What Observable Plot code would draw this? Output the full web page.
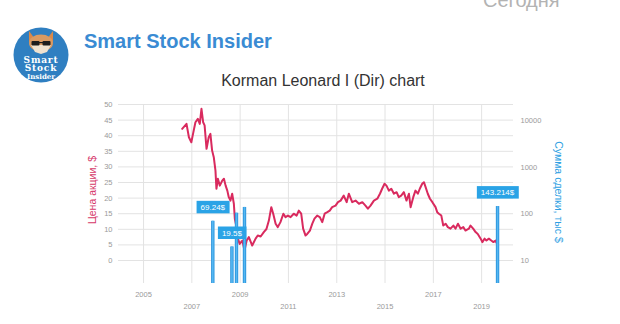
<!DOCTYPE html>
<html>
<head>
<meta charset="utf-8">
<script src="https://cdn.jsdelivr.net/npm/d3@7"></script>
<script src="https://cdn.jsdelivr.net/npm/@observablehq/plot@0.6"></script>
<style>
  html, body { margin: 0; padding: 0; background: #ffffff; }
  #wrap { position: relative; width: 620px; height: 324px; overflow: hidden; font-family: "Liberation Sans", Arial, sans-serif; }
  #wrap > svg, #wrap > figure { position: absolute; left: 0; top: 0; margin: 0; }
</style>
</head>
<body>
<div id="wrap"></div>
<script>
// ---- data ----
const priceYears = [
  2006.60, 2006.78, 2006.88, 2006.98, 2007.08, 2007.15, 2007.25, 2007.33, 2007.40, 2007.47,
  2007.53, 2007.61, 2007.70, 2007.77, 2007.84, 2007.91, 2007.98, 2008.02, 2008.08, 2008.16,
  2008.26, 2008.33, 2008.40, 2008.47, 2008.53, 2008.60, 2008.67, 2008.74, 2008.78, 2008.85,
  2008.91, 2008.98, 2009.09, 2009.18, 2009.27, 2009.36, 2009.50, 2009.64, 2009.73, 2009.85,
  2009.98, 2010.09, 2010.19, 2010.29, 2010.37, 2010.47, 2010.56, 2010.67, 2010.79, 2010.88,
  2010.98, 2011.09, 2011.22, 2011.34, 2011.43, 2011.53, 2011.61, 2011.71, 2011.78, 2011.89,
  2011.99, 2012.08, 2012.19, 2012.30, 2012.40, 2012.50, 2012.61, 2012.71, 2012.81, 2012.95,
  2013.05, 2013.16, 2013.29, 2013.41, 2013.50, 2013.64, 2013.78, 2013.92, 2014.06, 2014.19,
  2014.29, 2014.40, 2014.54, 2014.68, 2014.79, 2014.88, 2014.98, 2015.06, 2015.16, 2015.26,
  2015.37, 2015.48, 2015.57, 2015.67, 2015.78, 2015.89, 2015.99, 2016.06, 2016.17, 2016.26,
  2016.36, 2016.44, 2016.54, 2016.61, 2016.68, 2016.77, 2016.86, 2016.96, 2017.09, 2017.16,
  2017.23, 2017.33, 2017.41, 2017.51, 2017.60, 2017.71, 2017.83, 2017.92, 2018.02, 2018.13,
  2018.24, 2018.33, 2018.47, 2018.54, 2018.65, 2018.75, 2018.84, 2018.96, 2019.03, 2019.12,
  2019.20, 2019.30, 2019.40, 2019.48, 2019.58, 2019.67
];
const priceValues = [
  42.2, 43.8, 39.5, 37.9, 41.7, 44.3, 45.4, 43.8, 48.6, 44.3,
  43.3, 35.8, 39.5, 40.6, 35.3, 33.1, 28.8, 23.0, 26.2, 24.0,
  25.6, 26.2, 24.0, 22.4, 20.3, 19.2, 21.4, 18.2, 13.4, 10.7,
  7.0, 5.3, 6.4, 3.2, 6.4, 7.5, 4.8, 7.0, 8.0, 7.7,
  9.1, 10.1, 12.8, 17.1, 15.0, 11.8, 10.7, 12.3, 15.0, 13.9,
  14.4, 13.9, 15.0, 14.4, 16.0, 15.0, 10.2, 8.0, 8.5, 9.6,
  11.8, 13.4, 14.4, 13.9, 12.3, 15.0, 15.5, 16.0, 17.1, 17.6,
  18.7, 19.2, 20.8, 18.7, 21.4, 18.7, 19.2, 18.2, 18.7, 17.6,
  16.6, 17.6, 19.2, 19.8, 21.4, 23.0, 24.6, 24.0, 22.4, 23.0,
  21.4, 21.9, 20.3, 20.8, 21.9, 19.2, 21.4, 17.1, 20.3, 22.4,
  21.4, 23.0, 24.6, 25.1, 23.5, 21.4, 19.8, 18.7, 17.1, 15.5,
  15.0, 14.4, 11.2, 11.8, 10.7, 10.2, 11.2, 10.2, 11.8, 10.2,
  10.7, 9.6, 10.2, 11.2, 10.2, 9.1, 8.5, 7.0, 5.9, 7.0,
  6.4, 7.0, 6.4, 5.9, 6.4, 4.8
];
const dealYears = [2007.87, 2008.66, 2008.85, 2009.18, 2019.66];
const dealValues = [69.24, 19.5, 103, 137, 143.214];
const dealLabels = ["69.24$", "19.5$", "", "", "143.214$"];
const yearTicksRow1 = [2005, 2009, 2013, 2017];
const yearTicksRow2 = [2007, 2011, 2015, 2019];
const priceTicks = [0, 5, 10, 15, 20, 25, 30, 35, 40, 45, 50];
const amountTicks = [10, 100, 1000, 10000];
const xDomainYears = [2003.965, 2020.32];
const priceDomain = [-7.37, 50];
const amountDomain = [3.21, 22030];

// ---- helpers ----
function yearToDate(y) {
  const yr = Math.floor(y);
  const a = Date.UTC(yr, 0, 1), b = Date.UTC(yr + 1, 0, 1);
  return new Date(a + (y - yr) * (b - a));
}
const price = priceYears.map((y, i) => ({date: yearToDate(y), value: priceValues[i]}));
const deals = dealYears.map((y, i) => ({date: yearToDate(y), value: dealValues[i], label: dealLabels[i]}));
const labelled = deals.filter(d => d.label);
const xDomain = xDomainYears.map(yearToDate);
const allYearTicks = [...yearTicksRow1, ...yearTicksRow2].map(y => yearToDate(y));

const W = 620, H = 324;
const M = {top: 104, right: 107, bottom: 41, left: 118};
const font = "Liberation Sans, Arial, Helvetica, sans-serif";
const wrap = document.getElementById("wrap");

// ---- background layer: header, logo, titles ----
const ns = "http://www.w3.org/2000/svg";
const bg = document.createElementNS(ns, "svg");
bg.setAttribute("width", W); bg.setAttribute("height", H);
bg.innerHTML = `
  <text x="483" y="7" font-family="${font}" font-size="20" fill="#b3b3b3">Сегодня</text>
  <circle cx="41" cy="55" r="27.5" fill="#2f7fc1"/>
  <path d="M29,31 L35,39 L29,42 Z" fill="#d9894a"/>
  <path d="M53,31 L47,39 L53,42 Z" fill="#d9894a"/>
  <ellipse cx="41" cy="43" rx="12" ry="8.5" fill="#d99a62"/>
  <path d="M31,45 L51,45 L47,52 L41,54 L35,52 Z" fill="#efe2cf"/>
  <rect x="31.5" y="41" width="8" height="4.5" rx="1" fill="#1d1d1d"/>
  <rect x="42.5" y="41" width="8" height="4.5" rx="1" fill="#1d1d1d"/>
  <rect x="39" y="42" width="4" height="1.2" fill="#1d1d1d"/>
  <text x="41" y="62.5" text-anchor="middle" font-family="DejaVu Serif, serif" font-weight="bold" font-size="9" letter-spacing="0.8" fill="#ffffff">Smart</text>
  <text x="41" y="71" text-anchor="middle" font-family="DejaVu Serif, serif" font-weight="bold" font-size="9" letter-spacing="0.8" fill="#ffffff">Stock</text>
  <text x="41" y="78.5" text-anchor="middle" font-family="DejaVu Serif, serif" font-weight="bold" font-size="7" fill="#ffffff">Insider</text>
  <text x="84" y="48" font-family="${font}" font-weight="bold" font-size="20" fill="#3a8bd3">Smart Stock Insider</text>
  <text x="323" y="86" text-anchor="middle" font-family="${font}" font-size="16" fill="#333333">Korman Leonard I (Dir) chart</text>
  <text transform="translate(96,190) rotate(-90)" text-anchor="middle" font-family="${font}" font-size="10.5" fill="#d6386a">Цена акции, $</text>
  <text transform="translate(555,192) rotate(90)" text-anchor="middle" font-family="${font}" font-size="10.5" fill="#2e9fe3">Сумма сделки, тыс $</text>
`;
wrap.appendChild(bg);

// ---- price chart (left axis) ----
const p1 = Plot.plot({
  width: W, height: H,
  marginTop: M.top, marginRight: M.right, marginBottom: M.bottom, marginLeft: M.left,
  style: {background: "transparent", fontFamily: font, fontSize: "7.5px"},
  x: {type: "utc", domain: xDomain},
  y: {domain: priceDomain},
  marks: [
    Plot.gridY(priceTicks, {stroke: "#e3e3e3", strokeOpacity: 1}),
    Plot.gridX(allYearTicks, {stroke: "#e3e3e3", strokeOpacity: 1}),
    Plot.axisY(priceTicks, {tickSize: 0, tickPadding: 6, color: "#9a9a9a", label: null}),
    Plot.axisX(yearTicksRow1.map(yearToDate), {tickSize: 0, tickPadding: 8, tickFormat: d3.utcFormat("%Y"), color: "#9a9a9a", label: null}),
    Plot.axisX(yearTicksRow2.map(yearToDate), {tickSize: 0, tickPadding: 20, tickFormat: d3.utcFormat("%Y"), color: "#9a9a9a", label: null}),
    Plot.line(price, {x: "date", y: "value", stroke: "#d92a5e", strokeWidth: 2, strokeLinejoin: "round"})
  ]
});
wrap.appendChild(p1);

// ---- deals chart (right log axis) ----
const p2 = Plot.plot({
  width: W, height: H,
  marginTop: M.top, marginRight: M.right, marginBottom: M.bottom, marginLeft: M.left,
  style: {background: "transparent", fontFamily: font, fontSize: "7.5px"},
  x: {type: "utc", domain: xDomain, axis: null},
  y: {type: "log", domain: amountDomain, axis: null},
  marks: [
    Plot.axisY(amountTicks, {anchor: "right", tickSize: 0, tickPadding: 7, tickFormat: d => String(d), color: "#9a9a9a", label: null}),
    Plot.ruleX(deals, {x: "date", y1: amountDomain[0], y2: "value", stroke: "#2a93dc", strokeWidth: 3.4}),
    Plot.ruleX(deals, {x: "date", y1: amountDomain[0], y2: "value", stroke: "#55b8f2", strokeWidth: 1.6}),
    Plot.text(labelled, {x: "date", y: "value", text: "label", dy: -14, lineAnchor: "middle", fill: "#ffffff", fontSize: 8})
  ]
});
p2.style.pointerEvents = "none";
wrap.appendChild(p2);

// label boxes behind the deal labels
const frameRight = W - M.right;
const labelTexts = [...p2.querySelectorAll("text")].filter(t => labelled.some(d => d.label === t.textContent));
labelTexts.forEach(t => {
  const b = t.getBBox();
  let shift = 0;
  const right = b.x + b.width + 4;
  if (right > frameRight + 1) shift = frameRight + 1 - right;
  const r = document.createElementNS(ns, "rect");
  r.setAttribute("x", b.x - 4 + shift);
  r.setAttribute("y", b.y - 2);
  r.setAttribute("width", b.width + 8);
  r.setAttribute("height", b.height + 3.5);
  r.setAttribute("fill", "#2aa3e6");
  const tr = t.getAttribute("transform");
  if (tr) r.setAttribute("transform", tr);
  if (shift) t.setAttribute("x", (parseFloat(t.getAttribute("x")) || 0) + shift);
  t.parentNode.insertBefore(r, t);
});
</script>
</body>
</html>
